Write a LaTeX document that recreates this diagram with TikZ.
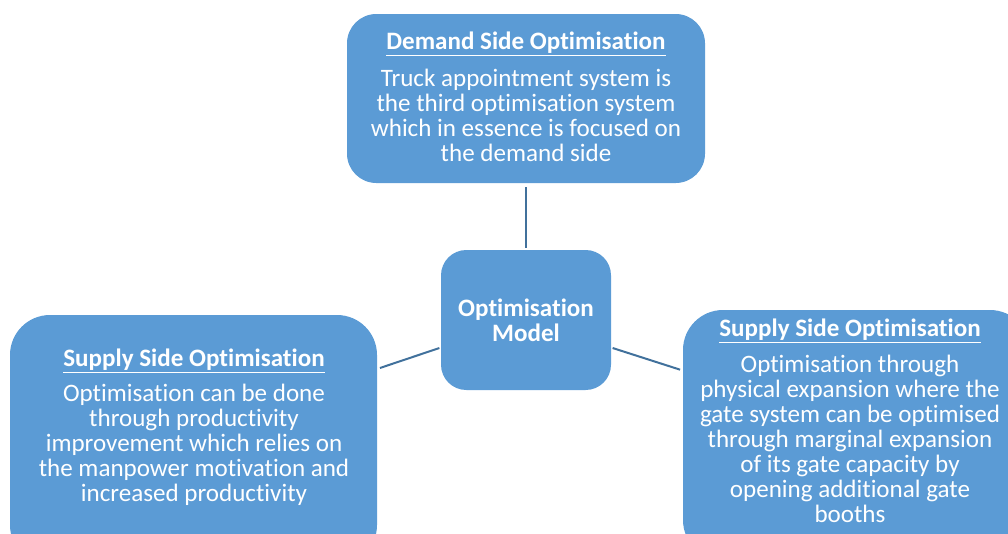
\documentclass[tikz,border=0pt]{standalone}
\usepackage{fontspec}
\setmainfont{Carlito}[Ligatures={NoCommon}]
\definecolor{boxblue}{HTML}{5B9BD5}
\definecolor{linkblue}{HTML}{41719C}
\begin{document}
\begin{tikzpicture}[x=0.75pt,y=-0.75pt,
  box/.style={fill=boxblue,draw=none,rounded corners=#1,inner sep=0pt},
  box/.default=22pt,
  txt/.style={text=white,align=center,font=\fontsize{18.8}{18.75}\selectfont,inner sep=0pt},
  head/.style={text=white,font=\fontsize{18.8}{18.75}\selectfont\bfseries,inner sep=0pt},
  link/.style={draw=linkblue,line width=1.5pt}]
\useasboundingbox (0,0) rectangle (1008,533);
\clip (0,0) rectangle (1008,533);
\node[box, minimum width=358*0.75pt, minimum height=169*0.75pt] (top) at (526,98.5) {};
\node[box=19pt, minimum width=170*0.75pt, minimum height=140*0.75pt] (mid) at (526,320) {};
\node[box=30pt, minimum width=367*0.75pt, minimum height=250*0.75pt] (left) at (193.5,440) {};
\node[box=30pt, minimum width=347*0.75pt, minimum height=250*0.75pt] (right) at (856.5,435) {};

\node[head] (toph) at (526,44) {\underline{Demand Side Optimisation}};
\node[txt] (topt) at (526,115) {Truck appointment system is\\the third optimisation system\\which in essence is focused on\\the demand side};
\node[head,align=center] (midt) at (526,320) {Optimisation\\Model};
\node[head] (lefth) at (194,361) {\underline{Supply Side Optimisation}};
\node[txt] (leftt) at (194,445) {Optimisation can be done\\through productivity\\improvement which relies on\\the manpower motivation and\\increased productivity};
\node[head] (righth) at (850,331) {\underline{Supply Side Optimisation}};
\node[txt] (rightt) at (850,439) {Optimisation through\\physical expansion where the\\gate system can be optimised\\through marginal expansion\\of its gate capacity by\\opening additional gate\\booths};

\draw[link] ([yshift=-3pt]top.south) -- ([yshift=1.5pt]mid.north);
\draw[link] ([yshift=-21pt,xshift=-1pt]mid.west) -- ([yshift=54pt,xshift=2pt]left.east);
\draw[link] ([yshift=-21pt,xshift=1pt]mid.east) -- ([yshift=49pt,xshift=-2pt]right.west);
\end{tikzpicture}
\end{document}
